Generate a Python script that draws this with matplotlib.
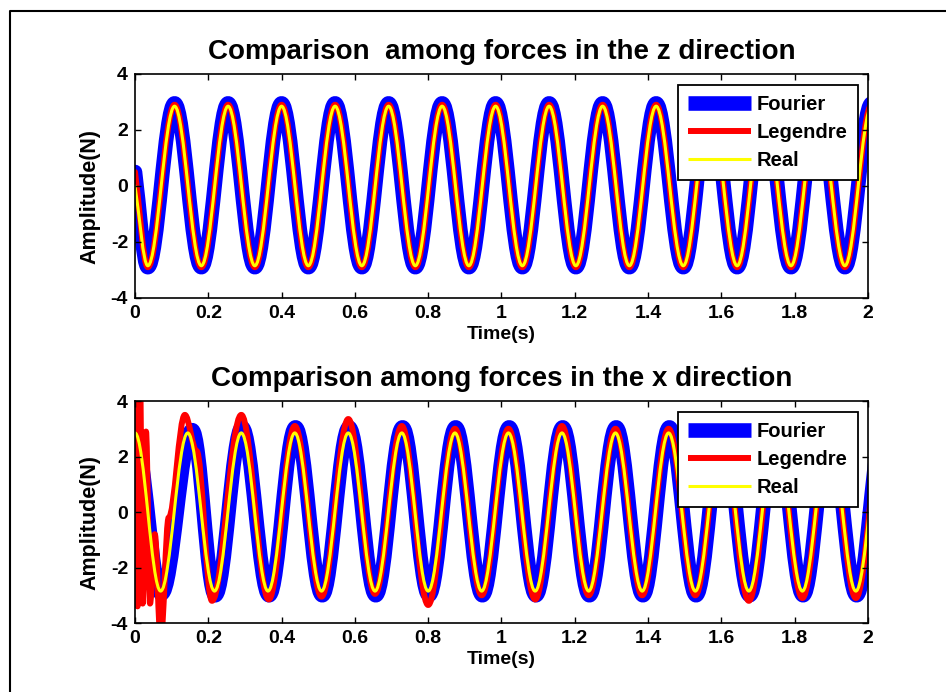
import matplotlib
matplotlib.use("Agg")
import matplotlib.pyplot as plt
from matplotlib.path import Path
from matplotlib.patches import PathPatch
from matplotlib.lines import Line2D

plt.rcParams['font.family'] = ['Liberation Sans', 'DejaVu Sans']
plt.rcParams['font.weight'] = 'bold'
plt.rcParams['axes.unicode_minus'] = False

# peaks / troughs (time in s, amplitude in N)
z_time = [0.000, 0.035, 0.108, 0.181, 0.254, 0.327, 0.400, 0.473, 0.546, 0.619,
          0.692, 0.765, 0.838, 0.911, 0.984, 1.057, 1.130, 1.203, 1.276, 1.349,
          1.422, 1.496, 1.569, 1.643, 1.716, 1.790, 1.863, 1.937, 2.010]
z_fourier = [0.5, -2.90, 2.95, -2.90, 2.95, -2.90, 2.95, -2.90, 2.95, -2.90,
             2.95, -2.90, 2.95, -2.90, 2.95, -2.90, 2.95, -2.90, 2.95, -2.90,
             2.95, -2.90, 2.95, -2.90, 2.95, -2.90, 2.95, -2.90, 2.95]
z_legendre = [0.5, -2.90, 2.90, -2.90, 2.90, -2.90, 2.90, -2.90, 2.90, -2.90,
              2.90, -2.90, 2.90, -2.90, 2.90, -2.90, 2.90, -2.90, 2.90, -2.90,
              2.90, -2.90, 2.90, -2.90, 2.90, -2.90, 2.90, -2.90, 2.90]
z_real = [0.0, -2.85, 2.85, -2.85, 2.85, -2.85, 2.85, -2.85, 2.85, -2.85,
          2.85, -2.85, 2.85, -2.85, 2.85, -2.85, 2.85, -2.85, 2.85, -2.85,
          2.85, -2.85, 2.85, -2.85, 2.85, -2.85, 2.85, -2.85, 2.85]

x_real_time = [0.000, 0.070, 0.144, 0.217, 0.290, 0.363, 0.436, 0.509, 0.582, 0.655,
               0.728, 0.800, 0.873, 0.946, 1.019, 1.092, 1.165, 1.238, 1.311, 1.384,
               1.456, 1.529, 1.602, 1.675, 1.748, 1.821, 1.894, 1.967, 2.040]
x_real = [2.85, -2.85, 2.85, -2.85, 2.85, -2.85, 2.85, -2.85, 2.85, -2.85,
          2.85, -2.85, 2.85, -2.85, 2.85, -2.85, 2.85, -2.85, 2.85, -2.85,
          2.85, -2.85, 2.85, -2.85, 2.85, -2.85, 2.85, -2.85, 2.85]

x_fourier_time = [0.000, 0.072, 0.156, 0.219, 0.292, 0.366, 0.438, 0.511, 0.584, 0.657,
                  0.730, 0.802, 0.875, 0.948, 1.021, 1.094, 1.167, 1.240, 1.313, 1.386,
                  1.458, 1.531, 1.604, 1.677, 1.750, 1.823, 1.896, 1.969, 2.042]
x_fourier = [2.60, -2.95, 2.95, -3.00, 3.05, -3.00, 3.05, -3.00, 3.05, -3.00,
             3.05, -3.00, 3.05, -3.00, 3.05, -3.00, 3.05, -3.00, 3.05, -3.00,
             3.05, -3.00, 3.05, -3.00, 3.05, -3.00, 3.05, -3.00, 3.05]

x_legendre_time = [0.000, 0.007, 0.014, 0.021, 0.030, 0.041, 0.054, 0.070, 0.092,
                   0.136, 0.168, 0.210, 0.290, 0.365, 0.436, 0.509, 0.582, 0.655,
                   0.728, 0.800, 0.873, 0.946, 1.019, 1.092, 1.165, 1.238, 1.311,
                   1.384, 1.456, 1.529, 1.602, 1.675, 1.748, 1.821, 1.894, 1.967, 2.040]
x_legendre = [4.6, -3.4, 4.6, -3.3, 2.9, -3.3, -0.8, -4.6, -0.2,
              3.5, 2.2, -3.2, 3.5, -3.15, 3.1, -3.05, 3.35, -2.95,
              3.1, -3.35, 3.0, -3.0, 3.0, -3.15, 3.1, -3.0, 3.0,
              -3.0, 3.0, -3.0, 3.0, -3.2, 3.0, -3.1, 3.0, -3.1, 3.0]

x_ticks = [0, 0.2, 0.4, 0.6, 0.8, 1.0, 1.2, 1.4, 1.6, 1.8, 2.0]
x_tick_labels = ['0', '0.2', '0.4', '0.6', '0.8', '1', '1.2', '1.4', '1.6', '1.8', '2']
y_ticks = [-4, -2, 0, 2, 4]
labels = ['Fourier', 'Legendre', 'Real']
colors = ['#0000ff', '#ff0000', '#ffff00']
widths = [10.5, 4.3, 2.2]


def smooth_curve(t, v, free_start=False):
    # cubic segments with flat tangents at each turning point
    verts = [(t[0], v[0])]
    codes = [Path.MOVETO]
    for i in range(len(t) - 1):
        dt = t[i + 1] - t[i]
        if i == 0 and free_start:
            c1 = (t[0] + dt / 3, v[0] + (v[1] - v[0]) / 3)
        else:
            c1 = (t[i] + 0.363 * dt, v[i])
        c2 = (t[i + 1] - 0.363 * dt, v[i + 1])
        verts += [c1, c2, (t[i + 1], v[i + 1])]
        codes += [Path.CURVE4] * 3
    return Path(verts, codes)


def draw_panel(ax, series, title):
    for (t, v, free), c, w in zip(series, colors, widths):
        ax.add_patch(PathPatch(smooth_curve(t, v, free), fill=False, edgecolor=c,
                               lw=w, capstyle='round', joinstyle='round'))
    ax.set_xlim(0, 2)
    ax.set_ylim(-4, 4)
    ax.set_xticks(x_ticks)
    ax.set_xticklabels(x_tick_labels)
    ax.set_yticks(y_ticks)
    ax.tick_params(direction='in', length=4, width=1, labelsize=14, pad=5,
                   top=True, right=True)
    for s in ax.spines.values():
        s.set_linewidth(1.2)
    ax.set_title(title, fontsize=20, fontweight='bold', pad=11)
    ax.set_xlabel('Time(s)', fontsize=14, fontweight='bold', labelpad=3)
    ax.set_ylabel('Amplitude(N)', fontsize=15.5, fontweight='bold')
    ax.yaxis.set_label_coords(-0.047, 0.455)
    handles = [Line2D([], [], color=c, lw=w, solid_capstyle='butt')
               for c, w in zip(colors, widths)]
    leg = ax.legend(handles, labels, loc='upper right', bbox_to_anchor=(0.986, 0.951),
                    borderaxespad=0, fancybox=False, framealpha=1, edgecolor='k',
                    prop={'size': 14.5, 'weight': 'bold'}, handlelength=3.1,
                    handletextpad=0.3, labelspacing=0.45, borderpad=0.5)
    leg.get_frame().set_linewidth(1.3)


fig = plt.figure(figsize=(9.46, 6.92), dpi=100)
ax1 = fig.add_axes([0.1427, 0.5694, 0.7748, 0.3237])
ax2 = fig.add_axes([0.1427, 0.0997, 0.7748, 0.3208])

draw_panel(ax1, [(z_time, z_fourier, True), (z_time, z_legendre, True), (z_time, z_real, True)],
           'Comparison  among forces in the z direction')
draw_panel(ax2, [(x_fourier_time, x_fourier, False), (x_legendre_time, x_legendre, False),
                 (x_real_time, x_real, False)],
           'Comparison among forces in the x direction')

# outer frame of the figure window
fig.add_artist(Line2D([10 / 946, 10 / 946, 1.0], [0.0, 1 - 11 / 692, 1 - 11 / 692],
                      transform=fig.transFigure, color='k', lw=1.5))

fig.savefig('out.png', dpi=100)
